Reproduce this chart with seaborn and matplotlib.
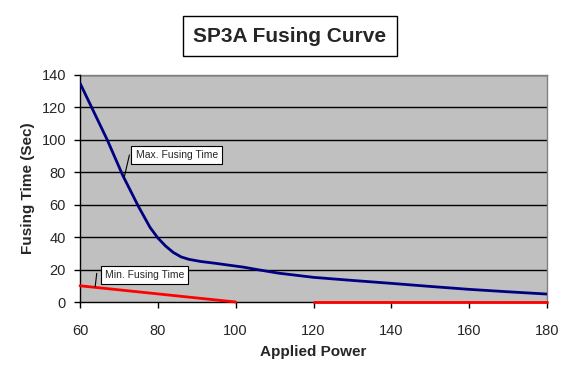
import numpy as np
import matplotlib
matplotlib.use("Agg")
import matplotlib.pyplot as plt
import seaborn as sns
import pandas as pd

# values
power_max = [60, 63, 67, 71, 75, 78, 80, 82, 84, 86, 88, 91, 95, 98, 102, 106, 111,
             120, 130, 140, 150, 160, 170, 180]
time_max = [135, 120, 100, 78, 59, 46, 39.5, 34.5, 30.5, 27.8, 26.3, 25, 23.8, 22.8, 21.5,
            19.8, 17.8, 15.2, 13.3, 11.5, 9.6, 7.8, 6.3, 4.9]

power_min = [60, 80, 100, 110, 120, 140, 160, 180]
time_min = [10, 5, 0, None, 0, 0, 0, 0]

x_ticks = [60, 80, 100, 120, 140, 160, 180]
y_ticks = [0, 20, 40, 60, 80, 100, 120, 140]

sns.set_style("white")
plt.rcParams['font.family'] = ['Liberation Sans', 'DejaVu Sans']

fig = plt.figure(figsize=(5.76, 3.8), dpi=100)
ax = fig.add_axes([80 / 576, 1 - 302 / 380, 467 / 576, 227 / 380])
ax.set_facecolor("#C0C0C0")

df_max = pd.DataFrame({"power": power_max, "time": time_max})
sns.lineplot(data=df_max, x="power", y="time", color="#000080", linewidth=2,
             ax=ax, zorder=4)

# min curve has a gap at 110, draw each run on its own
df_min = pd.DataFrame({"power": power_min, "time": time_min}, dtype=float)
run_id = df_min["time"].isna().cumsum()
for rid in run_id.unique():
    part = df_min[(run_id == rid) & df_min["time"].notna()]
    if len(part) > 1:
        sns.lineplot(data=part, x="power", y="time", color="#FF0000", linewidth=2,
                     ax=ax, zorder=4, clip_on=False)

ax.set_xlim(60, 180)
ax.set_ylim(0, 140)
ax.set_xticks(x_ticks)
ax.set_yticks(y_ticks)
ax.tick_params(axis="both", direction="out", length=4, width=1, color="black",
               labelsize=10.5, left=True, bottom=True)
ax.tick_params(axis="x", pad=12)
ax.tick_params(axis="y", pad=6)
for t in y_ticks[1:]:
    ax.axhline(t, color="black", linewidth=1, zorder=2)

for side in ["left", "bottom"]:
    ax.spines[side].set_color("black")
    ax.spines[side].set_linewidth(1)
    ax.spines[side].set_zorder(3)
for side in ["top", "right"]:
    ax.spines[side].set_color("#808080")
    ax.spines[side].set_linewidth(1)

ax.set_xlabel("Applied Power", fontsize=11, fontweight="bold", labelpad=5)
ax.set_ylabel("Fusing Time (Sec)", fontsize=11, fontweight="bold", labelpad=5)

# callout labels with short leader lines
box = dict(boxstyle="square,pad=0.4", facecolor="white", edgecolor="black", linewidth=0.8)
ax.plot([71.4, 72.7], [77.3, 90.7], color="black", linewidth=0.8, zorder=6)
ax.text(74.3, 90.7, "Max. Fusing Time", fontsize=7.5, va="center", ha="left",
        bbox=box, zorder=6)
ax.plot([63.9, 64.3], [9.4, 17.7], color="black", linewidth=0.8, zorder=6)
ax.text(66.4, 16.8, "Min. Fusing Time", fontsize=7.5, va="center", ha="left",
        bbox=box, zorder=6)

fig.text(290 / 576, 1 - 36 / 380, "SP3A Fusing Curve", fontsize=15, fontweight="bold",
         ha="center", va="center",
         bbox=dict(boxstyle="square,pad=0.5", facecolor="white", edgecolor="black",
                   linewidth=1))

fig.savefig("out.png", dpi=100)
